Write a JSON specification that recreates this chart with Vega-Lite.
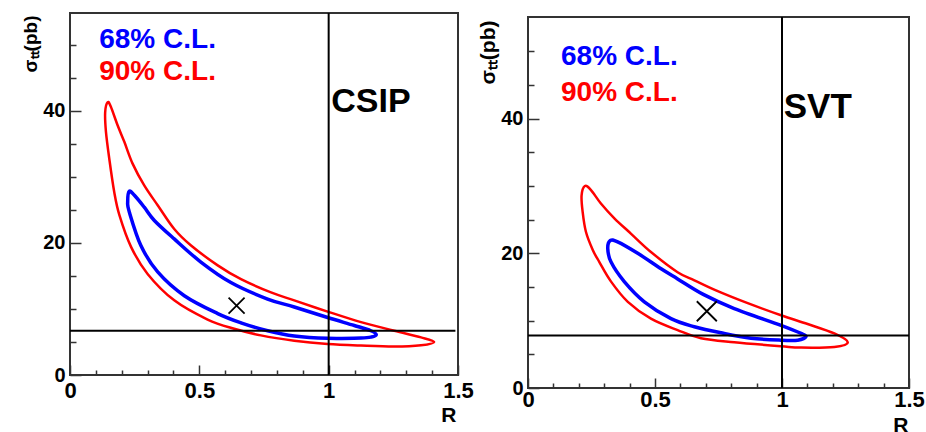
{
  "$schema": "https://vega.github.io/schema/vega-lite/v6.json",
  "autosize": {"type": "pad"},
  "padding": {"left": 19, "top": 11, "right": 0, "bottom": 0},
  "background": "white",
  "datasets": {
    "csip": [
      {"level": "90", "i": 0, "R": 0.146, "s": 41.3},
      {"level": "90", "i": 1, "R": 0.158, "s": 40.6},
      {"level": "90", "i": 2, "R": 0.184, "s": 37.8},
      {"level": "90", "i": 3, "R": 0.21, "s": 35.3},
      {"level": "90", "i": 4, "R": 0.242, "s": 32.0},
      {"level": "90", "i": 5, "R": 0.287, "s": 28.7},
      {"level": "90", "i": 6, "R": 0.339, "s": 25.7},
      {"level": "90", "i": 7, "R": 0.403, "s": 22.1},
      {"level": "90", "i": 8, "R": 0.468, "s": 19.6},
      {"level": "90", "i": 9, "R": 0.571, "s": 16.6},
      {"level": "90", "i": 10, "R": 0.661, "s": 14.5},
      {"level": "90", "i": 11, "R": 0.777, "s": 12.5},
      {"level": "90", "i": 12, "R": 0.867, "s": 11.3},
      {"level": "90", "i": 13, "R": 0.996, "s": 9.6},
      {"level": "90", "i": 14, "R": 1.125, "s": 8.0},
      {"level": "90", "i": 15, "R": 1.254, "s": 6.7},
      {"level": "90", "i": 16, "R": 1.357, "s": 5.7},
      {"level": "90", "i": 17, "R": 1.408, "s": 5.0},
      {"level": "90", "i": 18, "R": 1.357, "s": 4.5},
      {"level": "90", "i": 19, "R": 1.254, "s": 4.3},
      {"level": "90", "i": 20, "R": 1.125, "s": 4.45},
      {"level": "90", "i": 21, "R": 0.996, "s": 4.7},
      {"level": "90", "i": 22, "R": 0.867, "s": 5.2},
      {"level": "90", "i": 23, "R": 0.738, "s": 6.0},
      {"level": "90", "i": 24, "R": 0.635, "s": 7.0},
      {"level": "90", "i": 25, "R": 0.532, "s": 8.4},
      {"level": "90", "i": 26, "R": 0.403, "s": 11.3},
      {"level": "90", "i": 27, "R": 0.3, "s": 15.3},
      {"level": "90", "i": 28, "R": 0.236, "s": 19.4},
      {"level": "90", "i": 29, "R": 0.191, "s": 24.2},
      {"level": "90", "i": 30, "R": 0.171, "s": 27.7},
      {"level": "90", "i": 31, "R": 0.152, "s": 32.7},
      {"level": "90", "i": 32, "R": 0.139, "s": 36.8},
      {"level": "90", "i": 33, "R": 0.136, "s": 39.8},
      {"level": "68", "i": 0, "R": 0.229, "s": 27.8},
      {"level": "68", "i": 1, "R": 0.249, "s": 27.2},
      {"level": "68", "i": 2, "R": 0.287, "s": 25.4},
      {"level": "68", "i": 3, "R": 0.326, "s": 23.4},
      {"level": "68", "i": 4, "R": 0.403, "s": 20.6},
      {"level": "68", "i": 5, "R": 0.506, "s": 17.1},
      {"level": "68", "i": 6, "R": 0.622, "s": 14.0},
      {"level": "68", "i": 7, "R": 0.764, "s": 11.5},
      {"level": "68", "i": 8, "R": 0.867, "s": 10.3},
      {"level": "68", "i": 9, "R": 0.996, "s": 8.7},
      {"level": "68", "i": 10, "R": 1.099, "s": 7.5},
      {"level": "68", "i": 11, "R": 1.163, "s": 6.7},
      {"level": "68", "i": 12, "R": 1.184, "s": 6.1},
      {"level": "68", "i": 13, "R": 1.165, "s": 5.75},
      {"level": "68", "i": 14, "R": 1.125, "s": 5.6},
      {"level": "68", "i": 15, "R": 0.996, "s": 5.55},
      {"level": "68", "i": 16, "R": 0.867, "s": 5.9},
      {"level": "68", "i": 17, "R": 0.764, "s": 6.7},
      {"level": "68", "i": 18, "R": 0.661, "s": 7.9},
      {"level": "68", "i": 19, "R": 0.571, "s": 9.3},
      {"level": "68", "i": 20, "R": 0.442, "s": 12.0},
      {"level": "68", "i": 21, "R": 0.339, "s": 15.6},
      {"level": "68", "i": 22, "R": 0.274, "s": 19.6},
      {"level": "68", "i": 23, "R": 0.229, "s": 24.7},
      {"level": "68", "i": 24, "R": 0.223, "s": 26.2}
    ],
    "svt": [
      {"level": "90", "i": 0, "R": 0.224, "s": 30.0},
      {"level": "90", "i": 1, "R": 0.248, "s": 29.4},
      {"level": "90", "i": 2, "R": 0.287, "s": 27.4},
      {"level": "90", "i": 3, "R": 0.34, "s": 25.2},
      {"level": "90", "i": 4, "R": 0.406, "s": 22.9},
      {"level": "90", "i": 5, "R": 0.484, "s": 20.2},
      {"level": "90", "i": 6, "R": 0.589, "s": 17.2},
      {"level": "90", "i": 7, "R": 0.655, "s": 16.0},
      {"level": "90", "i": 8, "R": 0.74, "s": 14.5},
      {"level": "90", "i": 9, "R": 0.865, "s": 12.6},
      {"level": "90", "i": 10, "R": 0.996, "s": 10.8},
      {"level": "90", "i": 11, "R": 1.101, "s": 9.5},
      {"level": "90", "i": 12, "R": 1.206, "s": 8.1},
      {"level": "90", "i": 13, "R": 1.259, "s": 6.8},
      {"level": "90", "i": 14, "R": 1.206, "s": 6.1},
      {"level": "90", "i": 15, "R": 1.075, "s": 6.0},
      {"level": "90", "i": 16, "R": 0.996, "s": 6.2},
      {"level": "90", "i": 17, "R": 0.812, "s": 6.8},
      {"level": "90", "i": 18, "R": 0.681, "s": 7.4},
      {"level": "90", "i": 19, "R": 0.589, "s": 8.6},
      {"level": "90", "i": 20, "R": 0.484, "s": 10.3},
      {"level": "90", "i": 21, "R": 0.393, "s": 12.8},
      {"level": "90", "i": 22, "R": 0.327, "s": 15.8},
      {"level": "90", "i": 23, "R": 0.281, "s": 18.7},
      {"level": "90", "i": 24, "R": 0.255, "s": 20.5},
      {"level": "90", "i": 25, "R": 0.228, "s": 23.2},
      {"level": "90", "i": 26, "R": 0.215, "s": 26.2},
      {"level": "90", "i": 27, "R": 0.211, "s": 28.6},
      {"level": "68", "i": 0, "R": 0.324, "s": 21.9},
      {"level": "68", "i": 1, "R": 0.353, "s": 21.7},
      {"level": "68", "i": 2, "R": 0.432, "s": 20.0},
      {"level": "68", "i": 3, "R": 0.524, "s": 17.7},
      {"level": "68", "i": 4, "R": 0.589, "s": 16.2},
      {"level": "68", "i": 5, "R": 0.69, "s": 13.9},
      {"level": "68", "i": 6, "R": 0.812, "s": 11.8},
      {"level": "68", "i": 7, "R": 0.996, "s": 9.3},
      {"level": "68", "i": 8, "R": 1.075, "s": 8.1},
      {"level": "68", "i": 9, "R": 1.094, "s": 7.6},
      {"level": "68", "i": 10, "R": 1.062, "s": 7.1},
      {"level": "68", "i": 11, "R": 0.996, "s": 7.1},
      {"level": "68", "i": 12, "R": 0.878, "s": 7.4},
      {"level": "68", "i": 13, "R": 0.76, "s": 8.2},
      {"level": "68", "i": 14, "R": 0.655, "s": 9.1},
      {"level": "68", "i": 15, "R": 0.563, "s": 10.3},
      {"level": "68", "i": 16, "R": 0.458, "s": 12.8},
      {"level": "68", "i": 17, "R": 0.379, "s": 15.8},
      {"level": "68", "i": 18, "R": 0.327, "s": 18.7},
      {"level": "68", "i": 19, "R": 0.314, "s": 20.7}
    ]
  },
  "hconcat": [
    {
      "width": 388,
      "height": 362,
      "encoding": {
        "x": {
          "field": "R", "type": "quantitative",
          "scale": {"domain": [0, 1.5], "nice": false, "zero": false},
          "axis": {
            "values": [0, 0.1, 0.2, 0.3, 0.4, 0.5, 0.6, 0.7, 0.8, 0.9, 1, 1.1, 1.2, 1.3, 1.4, 1.5],
            "labelExpr": "abs(datum.value*2-round(datum.value*2)) < 0.001 ? format(datum.value, '~g') : ''",
            "tickSize": {"condition": {"test": "abs(datum.value*2-round(datum.value*2)) < 0.001", "value": -10}, "value": -5},
            "labelFontSize": 22,
            "labelPadding": 15,
            "title": "R",
            "titleFontSize": 21,
            "titleX": 386,
            "titleY": 46,
            "titleAlign": "right",
            "titleBaseline": "alphabetic",
            "titleAngle": 0
          }
        },
        "y": {
          "field": "s", "type": "quantitative",
          "scale": {"domain": [0, 54.8], "nice": false, "zero": false},
          "axis": {
            "values": [0, 5, 10, 15, 20, 25, 30, 35, 40, 45, 50],
            "labelExpr": "datum.value % 20 === 0 ? datum.label : ''",
            "tickSize": {"condition": {"test": "datum.value % 20 === 0", "value": -11}, "value": -6},
            "labelFontSize": 20,
            "labelPadding": 16,
            "title": "σₜₜ(pb)",
            "titleFontSize": 19,
            "titleX": -40,
            "titleY": 2,
            "titleAlign": "right",
            "titleBaseline": "middle",
            "titleAngle": -90
          }
        }
      },
      "layer": [
        {
          "data": {"name": "csip"},
          "transform": [{"filter": "datum.level === '90'"}],
          "mark": {"type": "line", "interpolate": "cardinal-closed", "color": "#ff0000", "strokeWidth": 2.5},
          "encoding": {"order": {"field": "i", "type": "quantitative"}}
        },
        {
          "data": {"name": "csip"},
          "transform": [{"filter": "datum.level === '68'"}],
          "mark": {"type": "line", "interpolate": "cardinal-closed", "color": "#0000ff", "strokeWidth": 3.5},
          "encoding": {"order": {"field": "i", "type": "quantitative"}}
        },
        {
          "data": {"values": [{"R": 1, "s": 0, "s2": 54.8}]},
          "mark": {"type": "rule", "color": "black", "strokeWidth": 2},
          "encoding": {"y2": {"field": "s2"}}
        },
        {
          "data": {"values": [{"R": 0, "R2": 1.49, "s": 6.7}]},
          "mark": {"type": "rule", "color": "black", "strokeWidth": 2},
          "encoding": {"x2": {"field": "R2"}}
        },
        {
          "data": {"values": [{"R": 0.644, "s": 10.5}]},
          "mark": {"type": "point", "shape": "M-1,-1L1,1M1,-1L-1,1", "size": 256, "filled": false, "color": "black", "strokeWidth": 1.8, "opacity": 1}
        },
        {
          "data": {"values": [
            {"txt": "68% C.L.", "level": "68", "R": 0.113, "s": 49.5},
            {"txt": "90% C.L.", "level": "90", "R": 0.113, "s": 44.7}
          ]},
          "mark": {"type": "text", "align": "left", "baseline": "alphabetic", "font": "Liberation Sans", "fontWeight": "bold", "fontSize": 28},
          "encoding": {
            "text": {"field": "txt"},
            "color": {"field": "level", "type": "nominal", "scale": {"domain": ["68", "90"], "range": ["#0000ff", "#ff0000"]}, "legend": null}
          }
        },
        {
          "data": {"values": [{"txt": "CSIP", "R": 1.01, "s": 39.8}]},
          "mark": {"type": "text", "align": "left", "baseline": "alphabetic", "font": "Liberation Sans", "fontWeight": "bold", "fontSize": 34, "color": "black"},
          "encoding": {"text": {"field": "txt"}}
        }
      ]
    },
    {
      "spacing": 0,
      "bounds": "flush",
      "vconcat": [
        {
          "width": 381,
          "height": 4,
          "view": {"stroke": null},
          "data": {"values": [{"R": 0}]},
          "mark": {"type": "point", "opacity": 0},
          "encoding": {}
        },
        {
          "width": 381,
          "height": 371,
          "encoding": {
            "x": {
              "field": "R", "type": "quantitative",
              "scale": {"domain": [0, 1.5], "nice": false, "zero": false},
              "axis": {
                "values": [0, 0.1, 0.2, 0.3, 0.4, 0.5, 0.6, 0.7, 0.8, 0.9, 1, 1.1, 1.2, 1.3, 1.4, 1.5],
                "labelExpr": "abs(datum.value*2-round(datum.value*2)) < 0.001 ? format(datum.value, '~g') : ''",
                "tickSize": {"condition": {"test": "abs(datum.value*2-round(datum.value*2)) < 0.001", "value": -10}, "value": -5},
                "labelFontSize": 22,
                "labelPadding": 11,
                "title": "R",
                "titleFontSize": 21,
                "titleX": 380,
                "titleY": 43,
                "titleAlign": "right",
                "titleBaseline": "alphabetic",
                "titleAngle": 0
              }
            },
            "y": {
              "field": "s", "type": "quantitative",
              "scale": {"domain": [0, 55.1], "nice": false, "zero": false},
              "axis": {
                "values": [0, 5, 10, 15, 20, 25, 30, 35, 40, 45, 50],
                "labelExpr": "datum.value % 20 === 0 ? datum.label : ''",
                "tickSize": {"condition": {"test": "datum.value % 20 === 0", "value": -11}, "value": -6},
                "labelFontSize": 20,
                "labelPadding": 16,
                "title": "σₜₜ(pb)",
                "titleFontSize": 21,
                "titleX": -40,
                "titleY": 3,
                "titleAlign": "right",
                "titleBaseline": "middle",
                "titleAngle": -90
              }
            }
          },
          "layer": [
            {
              "data": {"name": "svt"},
              "transform": [{"filter": "datum.level === '90'"}],
              "mark": {"type": "line", "interpolate": "cardinal-closed", "color": "#ff0000", "strokeWidth": 2.5},
              "encoding": {"order": {"field": "i", "type": "quantitative"}}
            },
            {
              "data": {"name": "svt"},
              "transform": [{"filter": "datum.level === '68'"}],
              "mark": {"type": "line", "interpolate": "cardinal-closed", "color": "#0000ff", "strokeWidth": 3.5},
              "encoding": {"order": {"field": "i", "type": "quantitative"}}
            },
            {
              "data": {"values": [{"R": 1, "s": 0, "s2": 55.1}]},
              "mark": {"type": "rule", "color": "black", "strokeWidth": 2},
              "encoding": {"y2": {"field": "s2"}}
            },
            {
              "data": {"values": [{"R": 0, "R2": 1.5, "s": 7.8}]},
              "mark": {"type": "rule", "color": "black", "strokeWidth": 2},
              "encoding": {"x2": {"field": "R2"}}
            },
            {
              "data": {"values": [{"R": 0.704, "s": 11.4}]},
              "mark": {"type": "point", "shape": "M-1,-1L1,1M1,-1L-1,1", "size": 400, "filled": false, "color": "black", "strokeWidth": 1.8, "opacity": 1}
            },
            {
              "data": {"values": [
                {"txt": "68% C.L.", "level": "68", "R": 0.13, "s": 48.0},
                {"txt": "90% C.L.", "level": "90", "R": 0.13, "s": 42.6}
              ]},
              "mark": {"type": "text", "align": "left", "baseline": "alphabetic", "font": "Liberation Sans", "fontWeight": "bold", "fontSize": 28},
              "encoding": {
                "text": {"field": "txt"},
                "color": {"field": "level", "type": "nominal", "scale": {"domain": ["68", "90"], "range": ["#0000ff", "#ff0000"]}, "legend": null}
              }
            },
            {
              "data": {"values": [{"txt": "SVT", "R": 1.007, "s": 40.1}]},
              "mark": {"type": "text", "align": "left", "baseline": "alphabetic", "font": "Liberation Sans", "fontWeight": "bold", "fontSize": 35, "color": "black"},
              "encoding": {"text": {"field": "txt"}}
            }
          ]
        }
      ]
    }
  ],
  "spacing": 70,
  "bounds": "flush",
  "config": {
    "font": "Liberation Sans",
    "view": {"stroke": "#333333", "strokeWidth": 2},
    "axis": {
      "domain": false,
      "grid": false,
      "labelFont": "Liberation Sans",
      "labelFontWeight": "bold",
      "labelColor": "black",
      "labelOverlap": false,
      "labelFlush": false,
      "tickColor": "#333333",
      "tickWidth": 1.5,
      "titleFont": "Liberation Sans",
      "titleFontWeight": "bold",
      "titleColor": "black"
    }
  }
}
